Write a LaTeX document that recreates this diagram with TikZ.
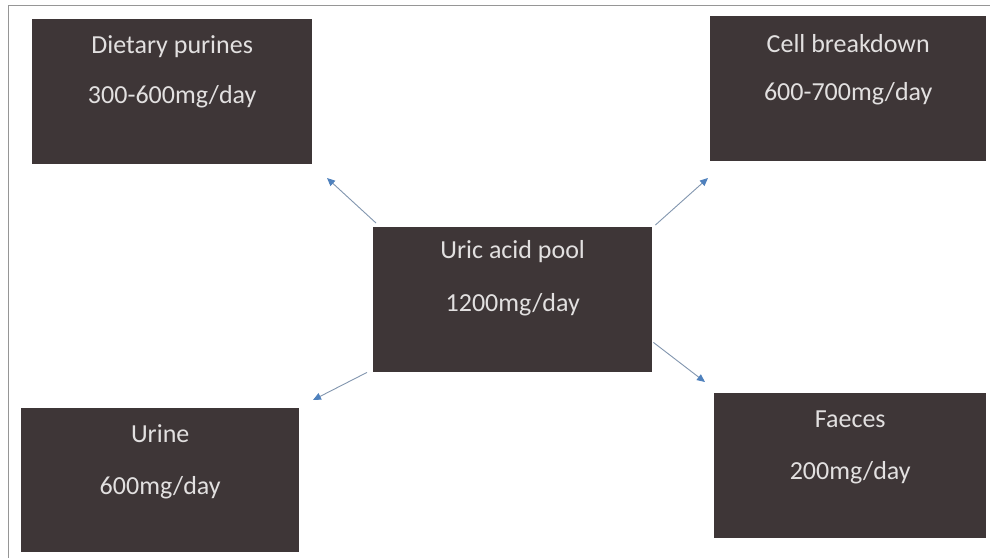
\documentclass[tikz,border=0pt]{standalone}
\usepackage{fontspec}
\setmainfont{Carlito}
\usetikzlibrary{arrows.meta,calc}
\definecolor{boxfill}{RGB}{62,54,55}
\definecolor{boxtext}{RGB}{226,224,224}
\definecolor{arrline}{RGB}{130,150,175}
\definecolor{arrhead}{RGB}{79,129,189}
\definecolor{frame}{RGB}{150,150,150}
\tikzset{
  box/.style={fill=boxfill, draw=none, anchor=north west, inner sep=0pt},
  boxlabel/.style={text=boxtext, font=\fontsize{26}{30}\selectfont, inner sep=0pt, anchor=center},
  flow/.style={draw=arrline, line width=0.9pt, -{Triangle[width=7pt,length=8pt,color=arrhead]}}
}
\begin{document}
\begin{tikzpicture}[x=1pt,y=-1pt]
\useasboundingbox (0,0) rectangle (990,558);
\fill[white] (0,0) rectangle (990,558);
\draw[frame, line width=1pt] (8,558) -- (8,5) -- (990,5);

\node[box, minimum width=280pt, minimum height=145pt] (diet) at (32,19) {};
\node[box, minimum width=276pt, minimum height=145pt] (cell) at (710,16) {};
\node[box, minimum width=279pt, minimum height=145pt] (pool) at (373,227) {};
\node[box, minimum width=278pt, minimum height=144pt] (urine) at (21,408) {};
\node[box, minimum width=272pt, minimum height=145pt] (faeces) at (714,393) {};

\node[boxlabel] (diet1) at ($(diet.north)+(0,28)$) {Dietary purines};
\node[boxlabel] (diet2) at ($(diet.north)+(0,78)$) {300-600mg/day};
\node[boxlabel] (cell1) at ($(cell.north)+(0,28)$) {Cell breakdown};
\node[boxlabel] (cell2) at ($(cell.north)+(0,78)$) {600-700mg/day};
\node[boxlabel] (pool1) at ($(pool.north)+(0,25)$) {Uric acid pool};
\node[boxlabel] (pool2) at ($(pool.north)+(0,78)$) {1200mg/day};
\node[boxlabel] (urine1) at ($(urine.north)+(0,26)$) {Urine};
\node[boxlabel] (urine2) at ($(urine.north)+(0,80)$) {600mg/day};
\node[boxlabel] (faeces1) at ($(faeces.north)+(0,26)$) {Faeces};
\node[boxlabel] (faeces2) at ($(faeces.north)+(0,80)$) {200mg/day};

\coordinate (tdiet) at (327,178);
\coordinate (tcell) at (708,178);
\coordinate (turine) at (313,400);
\coordinate (tfaeces) at (705,382);

\draw[flow] ($(pool.north west)+(3,-4)$) -- (tdiet);
\draw[flow] ($(pool.north east)+(3,-2)$) -- (tcell);
\draw[flow] ($(pool.south west)+(-6,0)$) -- (turine);
\draw[flow] ($(pool.south east)+(1,-30)$) -- (tfaeces);
\end{tikzpicture}
\end{document}
